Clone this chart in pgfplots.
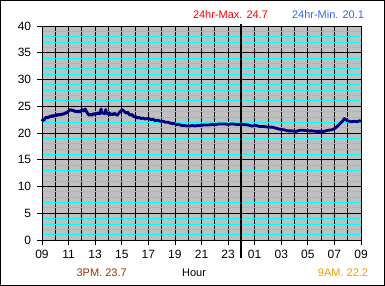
\documentclass[border=0pt]{standalone}
\usepackage{pgfplots}
\pgfplotsset{compat=1.18}
\usepackage{pgfplotstable}
\usepackage{fontspec}
\setmainfont{Liberation Sans}
\definecolor{plotbg}{HTML}{C0C0C0}
\definecolor{navyline}{HTML}{000080}
\definecolor{maxred}{HTML}{FF0000}
\definecolor{minblue}{HTML}{3366FF}
\definecolor{pmbrown}{HTML}{993300}
\definecolor{amorange}{HTML}{FF9900}
\definecolor{cyangrid}{HTML}{00FFFF}
\pgfplotstableread{
h t
0.00 22.2
0.08 22.6
0.15 22.4
0.25 22.8
0.35 23.0
0.45 22.8
0.55 23.1
0.65 23.0
0.75 23.3
0.85 23.1
0.95 23.3
1.05 23.2
1.15 23.5
1.25 23.3
1.35 23.5
1.45 23.4
1.55 23.6
1.65 23.5
1.75 23.8
1.85 23.7
1.95 24.0
2.05 24.2
2.15 24.4
2.25 24.2
2.35 24.3
2.45 24.0
2.55 24.1
2.65 23.9
2.75 24.1
2.85 23.9
2.95 24.2
3.05 24.4
3.15 24.1
3.25 24.5
3.35 24.0
3.45 23.6
3.55 23.3
3.65 23.5
3.75 23.3
3.85 23.6
3.95 23.5
4.05 23.7
4.15 23.5
4.25 23.8
4.35 23.6
4.45 24.5
4.50 23.7
4.60 23.8
4.70 23.6
4.80 24.4
4.85 23.7
4.95 23.5
5.05 23.8
5.15 23.4
5.25 23.6
5.35 23.4
5.45 23.7
5.55 23.5
5.65 23.3
5.75 23.6
5.85 23.9
5.95 24.2
6.05 24.4
6.15 24.1
6.25 23.9
6.35 23.7
6.45 23.9
6.55 23.5
6.65 23.3
6.75 23.5
6.85 23.2
6.95 23.0
7.05 23.1
7.15 22.8
7.30 22.9
7.45 22.7
7.60 22.8
7.75 22.6
7.90 22.7
8.05 22.7
8.20 22.5
8.35 22.6
8.50 22.3
8.70 22.4
8.90 22.2
9.10 22.2
9.30 22.0
9.50 22.0
9.70 21.8
9.90 21.8
10.1 21.6
10.3 21.6
10.5 21.4
10.7 21.4
10.9 21.3
11.1 21.3
11.3 21.4
11.5 21.3
11.7 21.4
11.9 21.4
12.2 21.5
12.5 21.5
12.8 21.6
13.1 21.6
13.4 21.7
13.7 21.7
14.0 21.6
14.3 21.7
14.6 21.6
14.9 21.6
15.2 21.6
15.5 21.5
15.8 21.3
16.1 21.4
16.4 21.2
16.7 21.2
17.0 21.1
17.3 21.1
17.6 20.9
17.9 20.7
18.2 20.6
18.5 20.4
18.8 20.4
19.1 20.3
19.4 20.5
19.7 20.5
20.0 20.4
20.3 20.4
20.6 20.3
20.9 20.3
21.2 20.3
21.5 20.5
21.8 20.6
22.0 20.8
22.2 21.2
22.4 21.7
22.6 22.2
22.75 22.7
22.9 22.4
23.1 22.2
23.3 22.1
23.5 22.2
23.7 22.1
23.9 22.3
24.0 22.2
}\temps
\begin{document}
\begin{tikzpicture}[font=\fontsize{11}{13}\selectfont]
\path[use as bounding box] (0,0) rectangle (385pt,286pt);
\draw[black, line width=1pt] (0.5pt,0.5pt) rectangle (384.5pt,285.5pt);
\draw[black, line width=1pt] (384pt,0pt) -- (384pt,286pt);
\begin{axis}[
  at={(42pt,46pt)}, anchor=south west, scale only axis,
  width=319pt, height=214pt,
  xmin=0, xmax=24, ymin=0, ymax=40, clip=false,
  axis background/.style={fill=plotbg},
  xtick={0,2,...,24},
  xticklabels={09,11,13,15,17,19,21,23,01,03,05,07,09},
  minor xtick={1,3,...,23},
  ytick={0,5,...,40},
  minor ytick={1,2,3,4,6,7,8,9,11,12,13,14,16,17,18,19,21,22,23,24,26,27,28,29,31,32,33,34,36,37,38,39},
  grid=both,
  major grid style={black, line width=0.8pt},
  minor x grid style={black, line width=0.8pt},
  minor y grid style={cyangrid, line width=0.8pt},
  tick align=outside, xtick pos=bottom, ytick pos=left,
  major tick length=5pt, minor tick length=0pt,
  tick style={black, line width=0.8pt},
  axis line style={black, line width=0.8pt},
  /pgf/number format/assume math mode=true,
  tick label style={font=\fontsize{12}{14}\selectfont},
  xticklabel style={yshift=-2pt},
  yticklabel style={xshift=-2.3pt},
]
\draw[black, line width=2pt] ([yshift=2pt]axis cs:15,40) -- ([yshift=-18pt]axis cs:15,0);
\addplot[navyline, line width=2.8pt, line join=round] table[x=h, y=t] {\temps};
\end{axis}
\node[anchor=base, text=maxred] at (230.5pt,267.3pt) {24hr-Max. 24.7};
\node[anchor=base, text=minblue] at (328pt,267.3pt) {24hr-Min. 20.1};
\node[anchor=base, text=pmbrown] at (101.7pt,9.3pt) {3PM. 23.7};
\node[anchor=base] at (194pt,9.3pt) {Hour};
\node[anchor=base, text=amorange] at (343pt,9.3pt) {9AM. 22.2};
\end{tikzpicture}
\end{document}
